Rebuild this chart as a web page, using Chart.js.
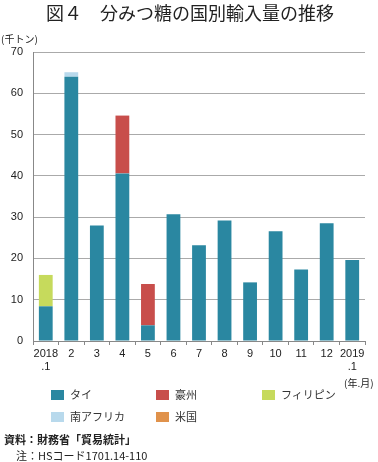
<!DOCTYPE html>
<html>
<head>
<meta charset="utf-8">
<script src="https://cdn.jsdelivr.net/npm/chart.js@4"></script>
<style>
  body { margin: 0; background: #fff; font-family: "Liberation Sans", "Noto Sans CJK JP", sans-serif; }
  #wrap { position: relative; width: 378px; height: 462px; }
  #myChart { position: absolute; left: 0; top: 0; }
  .txt { position: absolute; color: #222; white-space: nowrap; }
  #title { left: 0; width: 380px; top: -1px; text-align: center; font: 18px "Noto Sans CJK JP", sans-serif; }
  #unit { left: 1px; top: 31px; font: 10px "Noto Sans CJK JP", sans-serif; }
  #ym { left: 344px; top: 375px; font: 10px "Noto Sans CJK JP", sans-serif; }
  .leg { position: absolute; font: 11px "Noto Sans CJK JP", sans-serif; color: #333; }
  .leg span { display: inline-block; width: 13px; height: 10px; margin-right: 6px; vertical-align: -1px; }
  #src { left: 4px; top: 431px; font: bold 11px "Noto Sans CJK JP", sans-serif; }
  #note { left: 16px; top: 447px; font: 11px "Noto Sans CJK JP", sans-serif; }
</style>
</head>
<body>
<div id="wrap">
  <canvas id="myChart" width="378" height="462"></canvas>
  <div class="txt" id="title">図４　分みつ糖の国別輸入量の推移</div>
  <div class="txt" id="unit">(千トン)</div>
  <div class="txt" id="ym">(年.月)</div>
  <div id="legend"></div>
  <div class="txt" id="src">資料：財務省「貿易統計」</div>
  <div class="txt" id="note">注：HSコード1701.14-110</div>
</div>
<script>
// 分みつ糖の国別輸入量 (千トン)
const months = [['2018', '.1'], '2', '3', '4', '5', '6', '7', '8', '9', '10', '11', '12', ['2019', '.1']];
const countries = ['タイ', '豪州', 'フィリピン', '南アフリカ', '米国'];
const thai = [8.4, 64.0, 28.0, 40.6, 3.8, 30.7, 23.2, 29.2, 14.2, 26.6, 17.3, 28.5, 19.6];
const australia = [0, 0, 0, 14.0, 10.0, 0, 0, 0, 0, 0, 0, 0, 0];
const philippines = [7.6, 0, 0, 0, 0, 0, 0, 0, 0, 0, 0, 0, 0];
const southAfrica = [0, 1.1, 0, 0, 0, 0, 0, 0, 0, 0, 0, 0, 0];
const usa = [0, 0, 0, 0, 0, 0, 0, 0, 0, 0, 0, 0, 0];
const yTicks = [0, 10, 20, 30, 40, 50, 60, 70];

const colors = ['#2a87a1', '#c84e4b', '#c6da5c', '#b8d9ec', '#e0924b'];
const series = [thai, australia, philippines, southAfrica, usa];

// 凡例 (3列)
const legendPos = [[51, 386], [156, 386], [262, 386], [51, 408], [156, 408]];
const legend = document.getElementById('legend');
countries.forEach((name, i) => {
    const d = document.createElement('div');
    d.className = 'leg';
    d.style.left = legendPos[i][0] + 'px';
    d.style.top = legendPos[i][1] + 'px';
    d.innerHTML = '<span style="background:' + colors[i] + '"></span>' + name;
    legend.appendChild(d);
});

const ctx = document.getElementById('myChart').getContext('2d');
const myChart = new Chart(ctx, {
    type: 'bar',
    data: {
        labels: months,
        datasets: series.map((data, i) => ({
            label: countries[i],
            data: data,
            backgroundColor: colors[i],
            barPercentage: 0.54,
            categoryPercentage: 1
        }))
    },
    options: {
        responsive: false,
        animation: false,
        layout: { padding: { left: 0, right: 13, top: 52, bottom: 0 } },
        plugins: {
            legend: { display: false },
            tooltip: { enabled: false }
        },
        scales: {
            x: {
                stacked: true,
                afterFit: (s) => { s.height = 121; },
                grid: { drawOnChartArea: false, drawTicks: true, tickLength: 4, color: '#888' },
                border: { color: '#888' },
                ticks: { color: '#222', font: { size: 11, family: 'Liberation Sans' }, padding: 2, maxRotation: 0, autoSkip: false }
            },
            y: {
                stacked: true,
                min: 0,
                max: 70,
                afterFit: (s) => { s.width = 33; },
                afterBuildTicks: (s) => { s.ticks = yTicks.map(v => ({ value: v })); },
                grid: { color: '#aaa', drawTicks: false },
                border: { color: '#888' },
                ticks: { color: '#222', font: { size: 11, family: 'Liberation Sans' }, padding: 10 }
            }
        }
    }
});
</script>
</body>
</html>
